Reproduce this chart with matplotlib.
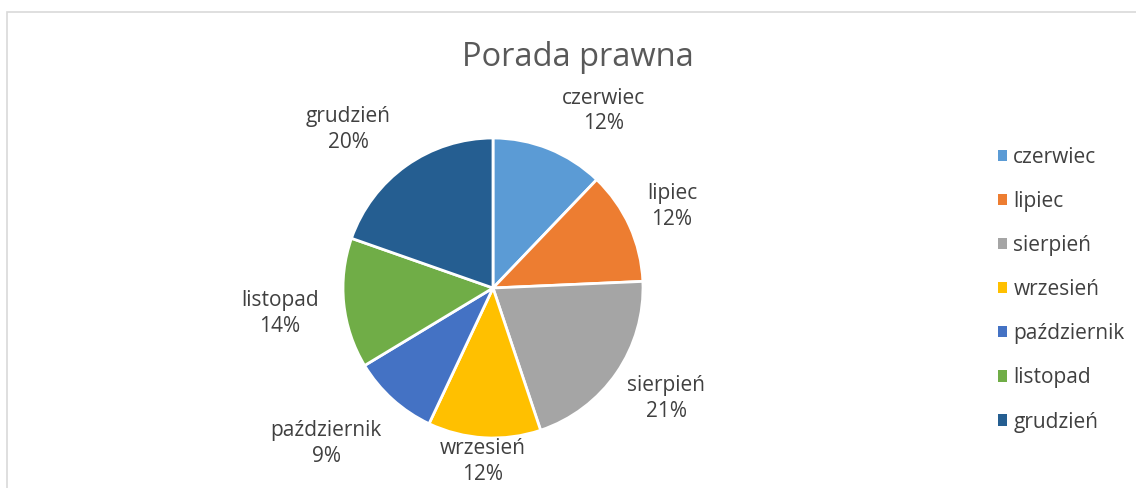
import numpy as np
import matplotlib.pyplot as plt
from matplotlib.patches import Patch, Rectangle

# Counts per month (shares)
months = ["czerwiec", "lipiec", "sierpień", "wrzesień", "październik", "listopad", "grudzień"]
counts = [13, 13, 22, 13, 10, 15, 21]
colors = ["#5B9BD5", "#ED7D31", "#A5A5A5", "#FFC000", "#4472C4", "#70AD47", "#255E91"]

# Label placement (Excel "best fit" look): radial factor and angle shift in degrees
label_dist = [1.39, 1.31, 1.37, 1.16, 1.52, 1.43, 1.43]
label_shift = [10, 0, -2, 0, 5, -1, -7]

plt.rcParams['font.family'] = ['Open Sans', 'DejaVu Sans']
W, H = 1136, 488
fig = plt.figure(figsize=(W / 100, H / 100), dpi=100)

# light frame of the chart area (only top and left visible)
fig.patches.append(Rectangle((7 / W, -0.05), 1.1, (H - 12) / H + 0.05,
                             transform=fig.transFigure, fill=False,
                             edgecolor="#d9d9d9", linewidth=1.2))

cx, cy, r = 493, 288, 150
ax = fig.add_axes([(cx - r) / W, (H - cy - r) / H, 2 * r / W, 2 * r / H])
wedges, _ = ax.pie(counts, colors=colors, startangle=90, counterclock=False,
                   radius=1, wedgeprops=dict(edgecolor="white", linewidth=2))
ax.set_xlim(-1, 1)
ax.set_ylim(-1, 1)
ax.axis('off')

total = sum(counts)
for w, name, c, d, s in zip(wedges, months, counts, label_dist, label_shift):
    mid = np.deg2rad((w.theta1 + w.theta2) / 2 - s)
    ax.text(d * np.cos(mid), d * np.sin(mid), f"{name}\n{round(100 * c / total)}%",
            ha="center", va="center", fontsize=15, color="#404040",
            linespacing=1.3, clip_on=False)

fig.text(578 / W, 1 - 58 / H, "Porada prawna", ha="center", va="center",
         fontsize=23.5, color="#595959")

handles = [Patch(facecolor=col, edgecolor="none") for col in colors]
fig.legend(handles, months, loc="upper left", bbox_to_anchor=(979 / W, 1 - 128 / H),
           frameon=False, fontsize=15, labelcolor="#404040",
           handlelength=0.45, handleheight=0.45, handletextpad=0.3, labelspacing=1.11)

fig.savefig("out.png", dpi=100)
